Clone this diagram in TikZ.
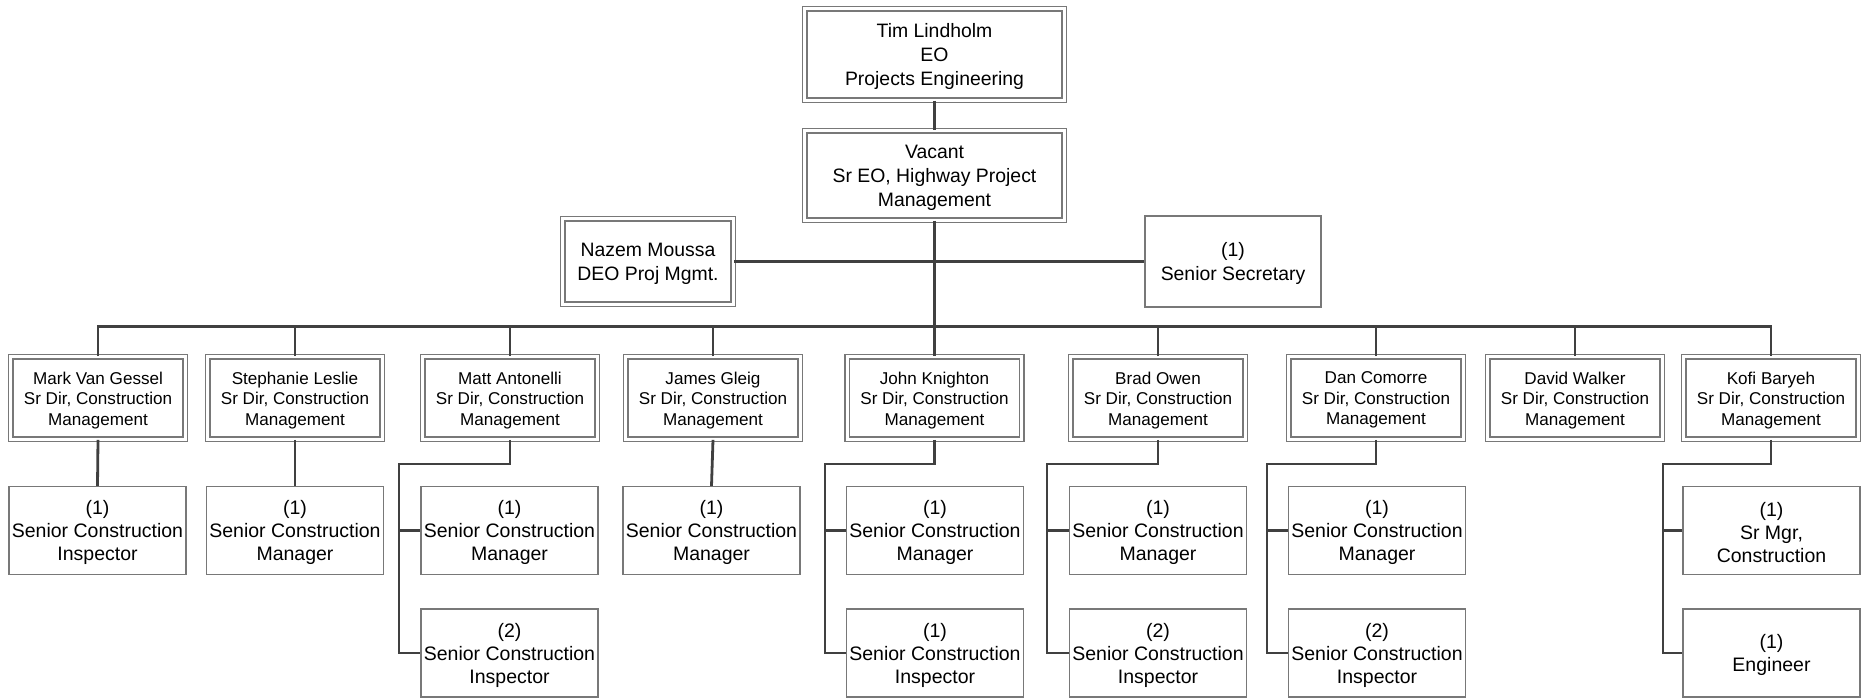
\documentclass[tikz,border=0pt]{standalone}
\usepackage{fontspec}
\setmainfont{Liberation Sans}
\definecolor{boxgray}{RGB}{120,120,120}
\definecolor{outgray}{RGB}{150,150,150}
\definecolor{conncol}{RGB}{64,64,64}
\begin{document}
\begin{tikzpicture}[x=1pt,y=-1pt,
  pbox/.style={draw=boxgray, double=white, double distance=3.3pt, line width=1.2pt, fill=white, inner sep=0pt},
  sbox/.style={draw=boxgray, line width=1.2pt, fill=white, inner sep=0pt},
  tb/.style={label={[font=\fontsize{19.4}{24}\selectfont, align=center, inner sep=0pt, yshift=-2pt]center:{#1}}},
  tm/.style={label={[font=\fontsize{17.1}{20.5}\selectfont, align=center, inner sep=0pt, yshift=-2.2pt]center:{#1}}},
  ts/.style={label={[font=\fontsize{19.5}{23}\selectfont, align=center, inner sep=0pt, yshift=-2pt]center:{#1}}},
  topsize/.style={minimum width=259.5pt},
  lvsize/.style={minimum width=174.5pt, minimum height=82.5pt},
  subsize/.style={minimum width=177pt, minimum height=88pt},
  conn/.style={draw=conncol, line width=2.8pt, line join=miter}]
\useasboundingbox (0,0) rectangle (1864,699);

% top
\node[pbox, topsize, minimum height=91.5pt, tb={Tim Lindholm\\EO\\Projects Engineering}] (tim) at (934.5,54.5) {};
\node[pbox, topsize, minimum height=89.5pt, tb={Vacant\\Sr EO, Highway Project\\Management}] (vac) at (934.5,175.5) {};
\node[pbox, minimum width=170.5pt, minimum height=85.5pt, tb={Nazem Moussa\\DEO Proj Mgmt.}] (naz) at (648,261.5) {};
\node[sbox, minimum width=176pt, minimum height=91pt, tb={(1)\\Senior Secretary}] (sec) at (1233,261.5) {};

% level 2
\node[pbox, lvsize, tm={Mark Van Gessel\\Sr Dir, Construction\\Management}] (mark) at (98,398) {};
\node[pbox, lvsize, tm={Stephanie Leslie\\Sr Dir, Construction\\Management}] (steph) at (295,398) {};
\node[pbox, lvsize, tm={Matt Antonelli\\Sr Dir, Construction\\Management}] (matt) at (510,398) {};
\node[pbox, lvsize, tm={James Gleig\\Sr Dir, Construction\\Management}] (james) at (713,398) {};
\node[pbox, lvsize, tm={John Knighton\\Sr Dir, Construction\\Management}] (john) at (934.5,398) {};
\node[pbox, lvsize, tm={Brad Owen\\Sr Dir, Construction\\Management}] (brad) at (1158,398) {};
\node[pbox, lvsize, tm={Dan Comorre\\Sr Dir, Construction\\Management}] (dan) at (1376,398) {};
\node[pbox, lvsize, tm={David Walker\\Sr Dir, Construction\\Management}] (david) at (1575,398) {};
\node[pbox, lvsize, tm={Kofi Baryeh\\Sr Dir, Construction\\Management}] (kofi) at (1771,398) {};

% level 3
\node[sbox, subsize, ts={(1)\\Senior Construction\\Inspector}] (markA) at (97.5,530.5) {};
\node[sbox, subsize, ts={(1)\\Senior Construction\\Manager}] (stephA) at (295,530.5) {};
\node[sbox, subsize, ts={(1)\\Senior Construction\\Manager}] (mattA) at (509.5,530.5) {};
\node[sbox, subsize, ts={(2)\\Senior Construction\\Inspector}] (mattB) at (509.5,653) {};
\node[sbox, subsize, ts={(1)\\Senior Construction\\Manager}] (jamesA) at (711.5,530.5) {};
\node[sbox, subsize, ts={(1)\\Senior Construction\\Manager}] (johnA) at (935,530.5) {};
\node[sbox, subsize, ts={(1)\\Senior Construction\\Inspector}] (johnB) at (935,653) {};
\node[sbox, subsize, ts={(1)\\Senior Construction\\Manager}] (bradA) at (1158,530.5) {};
\node[sbox, subsize, ts={(2)\\Senior Construction\\Inspector}] (bradB) at (1158,653) {};
\node[sbox, subsize, ts={(1)\\Senior Construction\\Manager}] (danA) at (1377,530.5) {};
\node[sbox, subsize, ts={(2)\\Senior Construction\\Inspector}] (danB) at (1377,653) {};
\node[sbox, subsize, ts={(1)\\Sr Mgr,\\Construction}] (kofiA) at (1771.5,530.5) {};
\node[sbox, subsize, ts={(1)\\Engineer}] (kofiB) at (1771.5,653) {};

% coordinates
\coordinate (bus) at (934.5,326.5);
\coordinate (mattj) at (399,464);
\coordinate (johnj) at (825,464);
\coordinate (bradj) at (1047,464);
\coordinate (danj) at (1267,464);
\coordinate (kofij) at (1663,464);

% connectors
\draw[conn] (tim.south) -- (vac.north);
\draw[conn] (vac.south) -- (bus) -- (john.north);
\draw[conn] (naz.east) -- (sec.west);
\draw[conn] (mark.north) |- (bus) -| (kofi.north);
\foreach \n in {steph,matt,james,brad,dan,david}
  \draw[conn] (\n.north) -- (\n.north |- bus);

\draw[conn] (mark.south) -- (markA.north);
\draw[conn] (steph.south) -- (stephA.north);
\draw[conn] (james.south) -- (jamesA.north);

\draw[conn] (matt.south) |- (mattj) |- (mattB.west);
\draw[conn] (mattj |- mattA.west) -- (mattA.west);
\draw[conn] (john.south) |- (johnj) |- (johnB.west);
\draw[conn] (johnj |- johnA.west) -- (johnA.west);
\draw[conn] (brad.south) |- (bradj) |- (bradB.west);
\draw[conn] (bradj |- bradA.west) -- (bradA.west);
\draw[conn] (dan.south) |- (danj) |- (danB.west);
\draw[conn] (danj |- danA.west) -- (danA.west);
\draw[conn] (kofi.south) |- (kofij) |- (kofiB.west);
\draw[conn] (kofij |- kofiA.west) -- (kofiA.west);
\end{tikzpicture}
\end{document}
